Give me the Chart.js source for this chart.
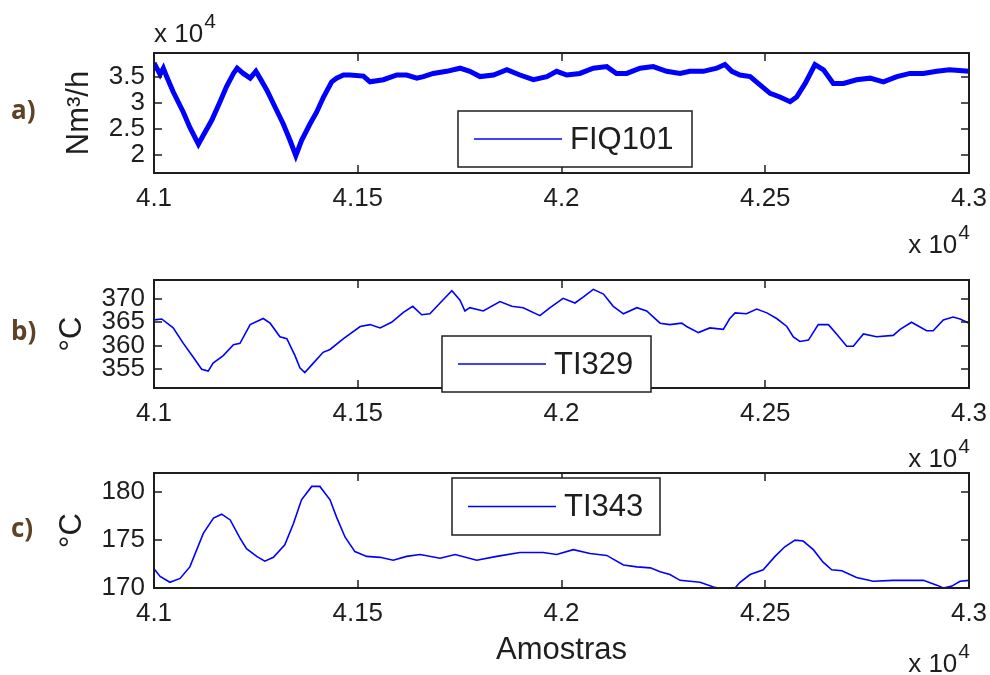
<!DOCTYPE html>
<html lang="pt">
<head>
  <meta charset="UTF-8" />
  <title>FIQ101 / TI329 / TI343</title>
  <script src="https://cdn.jsdelivr.net/npm/chart.js"></script>
  <style>
    body {
      margin: 0;
      background: #fff;
    }

    canvas {
      position: absolute;
      left: 0;
      display: block;
    }
  </style>
</head>
<body>
  <canvas id="graficoA" width="990" height="258" style="top:0"></canvas>
  <canvas id="graficoB" width="990" height="214" style="top:258px"></canvas>
  <canvas id="graficoC" width="990" height="235" style="top:440px"></canvas>

  <script>
    // eixo x comum: numero da amostra
    const xTicks = [41000, 41500, 42000, 42500, 43000];

    // a) vazao FIQ101 (Nm3/h)
    const amostrasA = [41000, 41015, 41023, 41031, 41047, 41072, 41088, 41109, 41121, 41142,
      41162, 41178, 41195, 41204, 41219, 41236, 41250, 41260, 41277, 41297,
      41317, 41334, 41348, 41362, 41383, 41399, 41416, 41436, 41448, 41465,
      41481, 41514, 41530, 41563, 41596, 41620, 41645, 41661, 41685, 41718,
      41751, 41775, 41800, 41833, 41866, 41898, 41931, 41964, 41988, 42013,
      42045, 42078, 42111, 42135, 42160, 42193, 42225, 42258, 42291, 42315,
      42348, 42381, 42401, 42418, 42438, 42463, 42487, 42512, 42536, 42561,
      42577, 42598, 42622, 42643, 42667, 42692, 42724, 42757, 42790, 42823,
      42855, 42888, 42921, 42952, 43000];
    const fiq101 = [37600, 35400, 36600, 35000, 32100, 28200, 25300, 22100, 23800, 26700,
      30200, 33100, 35600, 36600, 35600, 34700, 36000, 34700, 32400, 29200,
      26000, 22800, 19900, 22800, 26000, 28200, 31100, 34000, 34700, 35300,
      35300, 35100, 34000, 34400, 35300, 35300, 34700, 35000, 35600, 36000,
      36600, 36000, 35000, 35300, 36300, 35300, 34400, 35000, 36000, 35300,
      35600, 36600, 36900, 35600, 35600, 36600, 36900, 36000, 35600, 36000,
      36000, 36600, 37300, 36000, 35300, 35000, 33400, 31800, 31100, 30200,
      31100, 33700, 37300, 36300, 33700, 33700, 34400, 34700, 34000, 35000,
      35600, 35600, 36000, 36300, 36000];
    const yTicksA = [20000, 25000, 30000, 35000];

    // b) temperatura TI329 (oC)
    const amostrasB = [41000, 41019, 41047, 41072, 41096, 41117, 41133, 41145, 41170, 41195,
      41211, 41236, 41268, 41285, 41309, 41326, 41346, 41358, 41370, 41391,
      41415, 41432, 41465, 41506, 41530, 41555, 41583, 41612, 41635, 41657,
      41677, 41702, 41731, 41751, 41763, 41775, 41808, 41849, 41878, 41906,
      41947, 41972, 42004, 42033, 42054, 42078, 42103, 42127, 42152, 42185,
      42209, 42242, 42266, 42295, 42307, 42336, 42364, 42397, 42413, 42426,
      42454, 42479, 42504, 42528, 42553, 42569, 42585, 42606, 42630, 42655,
      42675, 42700, 42716, 42741, 42773, 42814, 42831, 42859, 42896, 42912,
      42937, 42961, 42978, 43000];
    const ti329 = [365.5, 365.7, 363.8, 360.5, 357.6, 355.0, 354.6, 356.3, 357.9, 360.2,
      360.5, 364.5, 365.8, 364.8, 361.9, 361.5, 357.9, 355.3, 354.3, 356.3,
      358.6, 359.2, 361.5, 364.1, 364.5, 363.8, 365.0, 367.1, 368.4, 366.6,
      366.8, 369.1, 371.7, 369.7, 367.4, 368.1, 367.4, 369.4, 368.4, 368.1,
      366.4, 368.1, 370.1, 369.1, 370.4, 372.0, 371.0, 368.4, 366.8, 368.1,
      367.4, 364.8, 364.5, 364.8, 364.1, 362.8, 363.8, 363.5, 365.8, 367.0,
      366.8, 367.8, 367.0, 365.8, 364.1, 361.9, 360.9, 361.2, 364.5, 364.5,
      362.5, 359.9, 359.9, 362.5, 361.9, 362.2, 363.5, 365.0, 363.2, 363.2,
      365.5, 366.1, 365.7, 364.8];
    const yTicksB = [355, 360, 365, 370];

    // c) temperatura TI343 (oC)
    const amostrasC = [41000, 41015, 41039, 41064, 41088, 41121, 41146, 41166, 41187, 41211,
      41227, 41252, 41272, 41293, 41321, 41342, 41362, 41387, 41407, 41432,
      41448, 41469, 41493, 41522, 41555, 41587, 41620, 41653, 41702, 41739,
      41792, 41841, 41898, 41955, 41988, 42029, 42070, 42111, 42152, 42185,
      42218, 42242, 42266, 42291, 42340, 42373, 42385, 42406, 42426, 42438,
      42463, 42495, 42524, 42548, 42573, 42593, 42618, 42642, 42663, 42688,
      42724, 42765, 42814, 42888, 42921, 42937, 42958, 42978, 43000];
    const ti343 = [172.0, 171.2, 170.6, 171.0, 172.2, 175.7, 177.3, 177.7, 177.1, 175.2,
      174.1, 173.3, 172.8, 173.2, 174.5, 176.7, 179.2, 180.6, 180.6, 179.2,
      177.4, 175.3, 173.8, 173.3, 173.2, 172.9, 173.3, 173.5, 173.1, 173.5,
      172.9, 173.3, 173.7, 173.7, 173.5, 174.0, 173.6, 173.4, 172.4, 172.2,
      172.1, 171.7, 171.4, 170.8, 170.6, 170.1, 170.0, 169.6, 170.0, 170.6,
      171.4, 171.9, 173.3, 174.3, 175.0, 174.9, 174.0, 172.7, 171.9, 171.8,
      171.1, 170.7, 170.8, 170.8, 170.3, 170.0, 170.2, 170.7, 170.8];
    const yTicksC = [170, 175, 180];

    const fonte = '"Liberation Sans", Arial, sans-serif';
    const corTexto = '#1e1e1e';
    Chart.defaults.font.family = fonte;
    Chart.defaults.color = corTexto;

    // escreve "x 10^4" com o expoente elevado
    function escreveMultiplicador(ctx, x, base, alinhaDireita) {
      ctx.font = '26px ' + fonte;
      const w1 = ctx.measureText('x 10').width;
      ctx.font = '21px ' + fonte;
      const w2 = ctx.measureText('4').width;
      const x0 = alinhaDireita ? x - w1 - w2 - 1 : x;
      ctx.textAlign = 'left';
      ctx.textBaseline = 'alphabetic';
      ctx.font = '26px ' + fonte;
      ctx.fillText('x 10', x0, base);
      ctx.font = '21px ' + fonte;
      ctx.fillText('4', x0 + w1 + 1, base - 14);
    }

    // caixa fechada, marcas internas, legenda e anotacoes de cada painel
    const molduraPlugin = {
      id: 'moldura',
      afterDatasetsDraw(chart, args, opts) {
        const { ctx, chartArea: a, scales: { x, y } } = chart;
        ctx.save();

        ctx.strokeStyle = corTexto;
        ctx.lineWidth = 2;
        ctx.strokeRect(a.left, a.top, a.right - a.left, a.bottom - a.top);

        ctx.lineWidth = 1.5;
        ctx.beginPath();
        x.ticks.forEach(t => {
          const px = Math.round(x.getPixelForValue(t.value));
          ctx.moveTo(px, a.bottom); ctx.lineTo(px, a.bottom - 8);
          ctx.moveTo(px, a.top); ctx.lineTo(px, a.top + 8);
        });
        y.ticks.forEach(t => {
          const py = Math.round(y.getPixelForValue(t.value));
          ctx.moveTo(a.left, py); ctx.lineTo(a.left + 8, py);
          ctx.moveTo(a.right, py); ctx.lineTo(a.right - 8, py);
        });
        ctx.stroke();

        // legenda
        const lg = opts.legenda;
        const bx = a.left + lg.x, by = a.top + lg.y;
        ctx.fillStyle = '#fff';
        ctx.fillRect(bx, by, lg.w, lg.h);
        ctx.lineWidth = 1.5;
        ctx.strokeStyle = corTexto;
        ctx.strokeRect(bx, by, lg.w, lg.h);
        ctx.strokeStyle = '#0000ff';
        ctx.beginPath();
        ctx.moveTo(bx + 16, by + lg.h / 2);
        ctx.lineTo(bx + 104, by + lg.h / 2);
        ctx.stroke();
        ctx.fillStyle = corTexto;
        ctx.font = '31px ' + fonte;
        ctx.textAlign = 'left';
        ctx.textBaseline = 'middle';
        ctx.fillText(chart.data.datasets[0].label, bx + 112, by + lg.h / 2 + 1);

        // multiplicadores dos eixos
        ctx.fillStyle = corTexto;
        escreveMultiplicador(ctx, a.right + 1, a.bottom + opts.multX, true);
        if (opts.multY) {
          escreveMultiplicador(ctx, a.left, a.top - 11, false);
        }

        // letra do painel
        ctx.fillStyle = '#5e4226';
        ctx.font = 'bold 26px "Open Sans", ' + fonte;
        ctx.textAlign = 'left';
        ctx.textBaseline = 'middle';
        ctx.fillText(opts.letra, 11, (a.top + a.bottom) / 2 - 1);

        ctx.restore();
      }
    };

    function criaGrafico(id, nome, amostras, valores, yTicks, cfg) {
      const pontos = amostras.map((s, i) => ({ x: s, y: valores[i] }));
      return new Chart(document.getElementById(id), {
        type: 'line',
        data: {
          datasets: [{
            label: nome,
            data: pontos,
            borderColor: '#0000ff',
            borderWidth: cfg.espessura,
            pointRadius: 0,
            tension: 0
          }]
        },
        options: {
          responsive: false,
          animation: false,
          events: [],
          layout: { padding: cfg.margem },
          plugins: {
            legend: { display: false },
            tooltip: { enabled: false },
            moldura: {
              letra: cfg.letra,
              legenda: cfg.legenda,
              multX: cfg.multX,
              multY: cfg.multY
            }
          },
          scales: {
            x: {
              type: 'linear',
              min: 41000,
              max: 43000,
              afterBuildTicks: s => { s.ticks = xTicks.map(v => ({ value: v })); },
              afterFit: s => {
                s.height = cfg.alturaX;
                // os rotulos das pontas podem sair da area; a margem fixa basta
                s.paddingLeft = 0;
                s.paddingRight = 0;
              },
              grid: { display: false, drawTicks: false },
              border: { display: false },
              ticks: {
                autoSkip: false,
                maxRotation: 0,
                padding: 10,
                color: corTexto,
                font: { size: 26 },
                callback: v => String(+(v / 1e4).toFixed(2))
              },
              title: {
                display: !!cfg.tituloX,
                text: cfg.tituloX || '',
                color: corTexto,
                font: { size: 31 },
                padding: 0
              }
            },
            y: {
              min: cfg.yMin,
              max: cfg.yMax,
              afterBuildTicks: s => { s.ticks = yTicks.map(v => ({ value: v })); },
              afterFit: s => { s.width = 154 - cfg.margem.left; },
              grid: { display: false, drawTicks: false },
              border: { display: false },
              ticks: {
                autoSkip: false,
                padding: 9,
                color: corTexto,
                font: { size: 26, lineHeight: 1 },
                callback: cfg.fmtY
              },
              title: {
                display: true,
                text: cfg.unidade,
                color: corTexto,
                font: { size: 31 },
                padding: 0
              }
            }
          }
        },
        plugins: [molduraPlugin]
      });
    }

    criaGrafico('graficoA', 'FIQ101', amostrasA, fiq101, yTicksA, {
      letra: 'a)',
      unidade: 'Nm³/h',
      espessura: 5,
      yMin: 16600,
      yMax: 39500,
      fmtY: v => String(v / 1e4),
      margem: { left: 61, right: 21, top: 53, bottom: 40 },
      alturaX: 45,
      multX: 80,
      multY: true,
      legenda: { x: 304, y: 58, w: 234, h: 56 }
    });

    criaGrafico('graficoB', 'TI329', amostrasB, ti329, yTicksB, {
      letra: 'b)',
      unidade: '°C',
      espessura: 1.6,
      yMin: 351,
      yMax: 374,
      fmtY: v => String(v),
      margem: { left: 54, right: 21, top: 14, bottom: 39 },
      alturaX: 45,
      multX: 79,
      multY: false,
      legenda: { x: 288, y: 56, w: 209, h: 56 }
    });

    criaGrafico('graficoC', 'TI343', amostrasC, ti343, yTicksC, {
      letra: 'c)',
      unidade: '°C',
      espessura: 1.6,
      yMin: 170,
      yMax: 182,
      fmtY: v => String(v),
      margem: { left: 54, right: 21, top: 33, bottom: 6 },
      alturaX: 81,
      tituloX: 'Amostras',
      multX: 84,
      multY: false,
      legenda: { x: 298, y: 5, w: 208, h: 57 }
    });
  </script>
</body>
</html>
